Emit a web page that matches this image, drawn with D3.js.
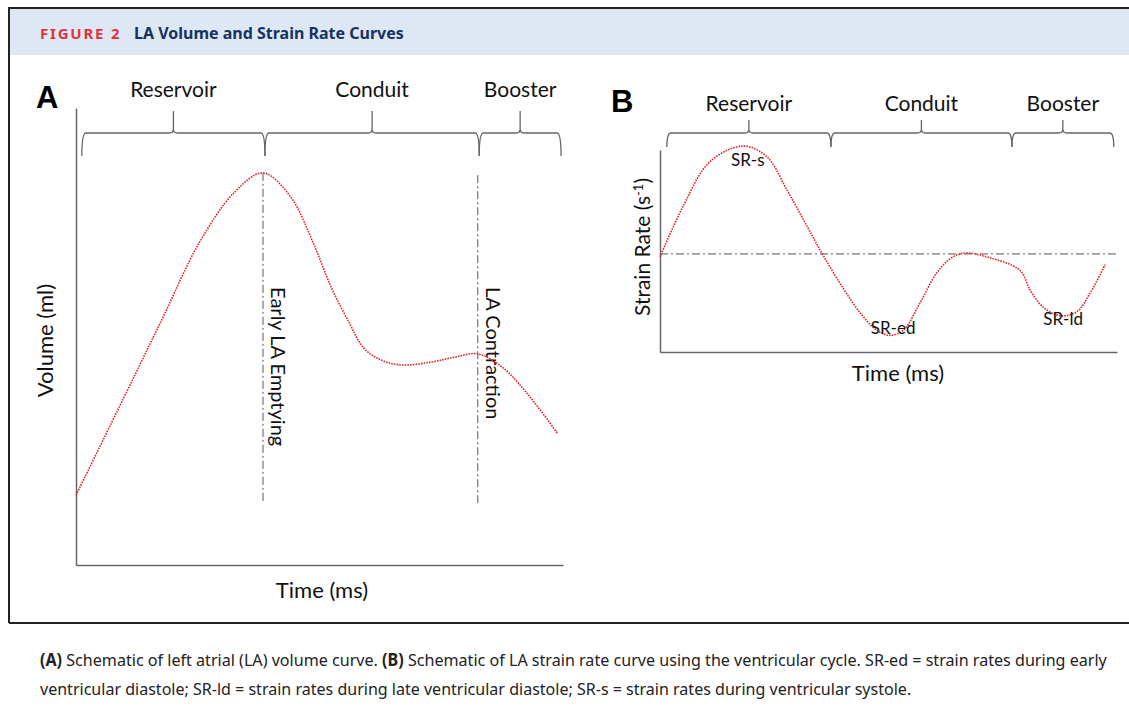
<!DOCTYPE html>
<html>
<head>
<meta charset="utf-8">
<script src="https://cdn.jsdelivr.net/npm/d3@7"></script>
<style>
  body { margin: 0; background: #fff; }
  svg { display: block; }
  .lbl { font-family: Lato, "Open Sans", sans-serif; fill: #111; }
  .axis path { stroke: #666; stroke-width: 1.5; }
</style>
</head>
<body>
<div id="chart"></div>
<script>
// Panel A: LA volume curve (arbitrary units, time 0-100)
const volTime  = [0, 10.5, 17.9, 25.3, 32.4, 38.4, 44.1, 48.7, 52.4, 56.1, 58.9, 61.8, 66.3, 72.9, 77.8, 82.5, 87.5, 92.6, 98.8];
const volValue = [15.3, 38.1, 54.3, 70.5, 81.4, 85.8, 80.5, 70.5, 60.8, 53.0, 47.7, 45.3, 43.8, 44.4, 45.5, 46.2, 43.3, 37.6, 28.9];

// Panel B: strain rate curve (s^-1, arbitrary), time 0-100
const srTime  = [0, 5.0, 10.9, 18.2, 23.4, 27.8, 32.2, 35.4, 39.4, 43.8, 47.5, 50.3, 53.2, 56.9, 60.6, 64.1, 67.2, 72.2, 77.2, 79.2, 81.0, 83.8, 87.5, 91.2, 94.1, 97.4];
const srValue = [-0.03, 0.48, 0.94, 1.10, 0.99, 0.65, 0.28, 0.01, -0.30, -0.60, -0.78, -0.83, -0.78, -0.50, -0.19, -0.03, 0.01, -0.04, -0.12, -0.19, -0.37, -0.54, -0.63, -0.59, -0.40, -0.11];

// phases (brace boundaries in time units)
const phases = ['Reservoir', 'Conduit', 'Booster'];
const phaseBoundsA = [1.2, 38.8, 82.8, 99.6];
const phaseBoundsB = [1.5, 37.4, 77.0, 99.3];

// vertical markers on panel A
const markerNames = ['Early LA Emptying', 'LA Contraction'];
const markerTime = [38.4, 82.5];
const markerTop = [85.8, 85.3];
const markerBottom = 13.6;

// strain-rate peak labels
const srLabels = ['SR-s', 'SR-ed', 'SR-ld'];
const srLabelTime = [19.2, 51.0, 88.2];
const srLabelValue = [0.90, -0.82, -0.72];

const W = 1129, H = 709;
const svg = d3.select('#chart').append('svg').attr('width', W).attr('height', H);

// Frame + header
svg.append('rect').attr('x', 9).attr('y', 9).attr('width', W - 9).attr('height', 46).attr('fill', '#dde8f4');
svg.append('path').attr('d', `M9,623 L9,8 L${W},8`).attr('fill', 'none').attr('stroke', '#222').attr('stroke-width', 2);
svg.append('line').attr('x1', 9).attr('x2', W).attr('y1', 623).attr('y2', 623).attr('stroke', '#222').attr('stroke-width', 2);

const title = svg.append('text').attr('x', 40).attr('y', 39)
  .style('font-family', '"Noto Sans", sans-serif').style('font-weight', 'bold');
title.append('tspan').text('FIGURE 2').attr('fill', '#e2323c').style('font-size', '15px').style('letter-spacing', '1.8px');
title.append('tspan').attr('x', 134).text('LA Volume and Strain Rate Curves').attr('fill', '#17325e').style('font-size', '16px');

// Caption: condensed look by squeezing each line horizontally to its width in the reference
function captionLine(y, width, parts) {
  const g = svg.append('g').attr('transform', `translate(40,${y})`);
  const t = g.append('text').style('font-family', '"Noto Sans", sans-serif').style('font-size', '17px').attr('fill', '#222');
  parts.forEach(([s, bold]) => t.append('tspan').style('font-weight', bold ? 'bold' : 'normal').text(s));
  const natural = t.node().getComputedTextLength();
  g.attr('transform', `translate(40,${y}) scale(${width / natural},1)`);
}
captionLine(666, 1068, [['(A)', true], [' Schematic of left atrial (LA) volume curve. ', false], ['(B)', true],
  [' Schematic of LA strain rate curve using the ventricular cycle. SR-ed = strain rates during early', false]]);
captionLine(695, 872, [['ventricular diastole; SR-ld = strain rates during late ventricular diastole; SR-s = strain rates during ventricular systole.', false]]);

// brace drawing
function bracePath(x0, x1, h, d, t, r) {
  const m = (x0 + x1) / 2;
  return `M${x0},${h + d} Q${x0},${h} ${x0 + r},${h} L${m - r},${h} Q${m},${h} ${m},${h - r} L${m},${h - t}` +
         ` M${m},${h - r} Q${m},${h} ${m + r},${h} L${x1 - r},${h} Q${x1},${h} ${x1},${h + d}`;
}

function drawBraces(g, x, bounds, h, d, t, labelY) {
  phases.forEach((p, i) => {
    const x0 = x(bounds[i]), x1 = x(bounds[i + 1]);
    g.append('path').attr('d', bracePath(x0, x1, h, d, t, 4))
      .attr('fill', 'none').attr('stroke', '#666').attr('stroke-width', 1.3);
    g.append('text').attr('class', 'lbl').attr('x', (x0 + x1) / 2).attr('y', labelY)
      .attr('text-anchor', 'middle').style('font-size', '21px').text(p);
  });
}

const redLine = sel => sel.attr('fill', 'none').attr('stroke', '#e3262b')
  .attr('stroke-width', 1.6).attr('stroke-dasharray', '1.6 1.1');

// ---------- Panel A ----------
const xA = d3.scaleLinear([0, 100], [76, 563]);
const yA = d3.scaleLinear([0, 100], [565, 108]);
const gA = svg.append('g');

gA.append('text').attr('x', 36).attr('y', 108).style('font-family', '"Liberation Sans", Arial, sans-serif')
  .style('font-weight', 'bold').style('font-size', '31px').text('A');

drawBraces(gA, xA, phaseBoundsA, 133, 23, 22, 97);

gA.append('g').attr('class', 'axis').attr('transform', `translate(${xA(0)},0)`)
  .call(d3.axisLeft(yA).ticks(0).tickSizeOuter(0));
gA.append('g').attr('class', 'axis').attr('transform', `translate(0,${yA(0)})`)
  .call(d3.axisBottom(xA).ticks(0).tickSizeOuter(0));

markerNames.forEach((name, i) => {
  const mx = xA(markerTime[i]);
  gA.append('line').attr('x1', mx).attr('x2', mx).attr('y1', yA(markerTop[i])).attr('y2', yA(markerBottom))
    .attr('stroke', '#555').attr('stroke-width', 1).attr('stroke-dasharray', '8 3 2 3');
  gA.append('text').attr('class', 'lbl').attr('transform', `translate(${mx + 8},287) rotate(90)`)
    .style('font-size', '20px').text(name);
});

const volData = volTime.map((t, i) => ({ t, v: volValue[i] }));
gA.append('path').datum(volData)
  .attr('d', d3.line().x(d => xA(d.t)).y(d => yA(d.v)).curve(d3.curveCatmullRom))
  .call(redLine);

gA.append('text').attr('class', 'lbl').attr('transform', `translate(53,${(yA(0) + yA(100)) / 2 + 4}) rotate(-90)`)
  .attr('text-anchor', 'middle').style('font-size', '22px').text('Volume (ml)');
gA.append('text').attr('class', 'lbl').attr('x', 322).attr('y', 598)
  .attr('text-anchor', 'middle').style('font-size', '22px').text('Time (ms)');

// ---------- Panel B ----------
const xB = d3.scaleLinear([0, 100], [660, 1117]);
const yB = d3.scaleLinear([-1.0, 1.06], [352, 150]);
const gB = svg.append('g');

gB.append('text').attr('x', 611).attr('y', 112).style('font-family', '"Liberation Sans", Arial, sans-serif')
  .style('font-weight', 'bold').style('font-size', '31px').text('B');

drawBraces(gB, xB, phaseBoundsB, 133, 14, 13, 111);

gB.append('g').attr('class', 'axis').attr('transform', `translate(${xB(0)},0)`)
  .call(d3.axisLeft(yB).ticks(0).tickSizeOuter(0));
gB.append('g').attr('class', 'axis').attr('transform', `translate(0,${yB(-1.0)})`)
  .call(d3.axisBottom(xB).ticks(0).tickSizeOuter(0));

gB.append('line').attr('x1', xB(0)).attr('x2', xB(100)).attr('y1', yB(0)).attr('y2', yB(0))
  .attr('stroke', '#555').attr('stroke-width', 1).attr('stroke-dasharray', '8 3 2 3');

const srData = srTime.map((t, i) => ({ t, v: srValue[i] }));
gB.append('path').datum(srData)
  .attr('d', d3.line().x(d => xB(d.t)).y(d => yB(d.v)).curve(d3.curveCatmullRom))
  .call(redLine);

srLabels.forEach((s, i) => {
  gB.append('text').attr('class', 'lbl').attr('x', xB(srLabelTime[i])).attr('y', yB(srLabelValue[i]))
    .attr('text-anchor', 'middle').style('font-size', '17px').text(s);
});

const srTitle = gB.append('text').attr('class', 'lbl')
  .attr('transform', `translate(650,${(yB(-1.0) + yB(1.06)) / 2 - 4}) rotate(-90)`)
  .attr('text-anchor', 'middle').style('font-size', '21px');
srTitle.append('tspan').text('Strain Rate (s');
srTitle.append('tspan').attr('dy', -7).style('font-size', '13px').text('-1');
srTitle.append('tspan').attr('dy', 7).text(')');

gB.append('text').attr('class', 'lbl').attr('x', 898).attr('y', 381)
  .attr('text-anchor', 'middle').style('font-size', '22px').text('Time (ms)');
</script>
</body>
</html>
